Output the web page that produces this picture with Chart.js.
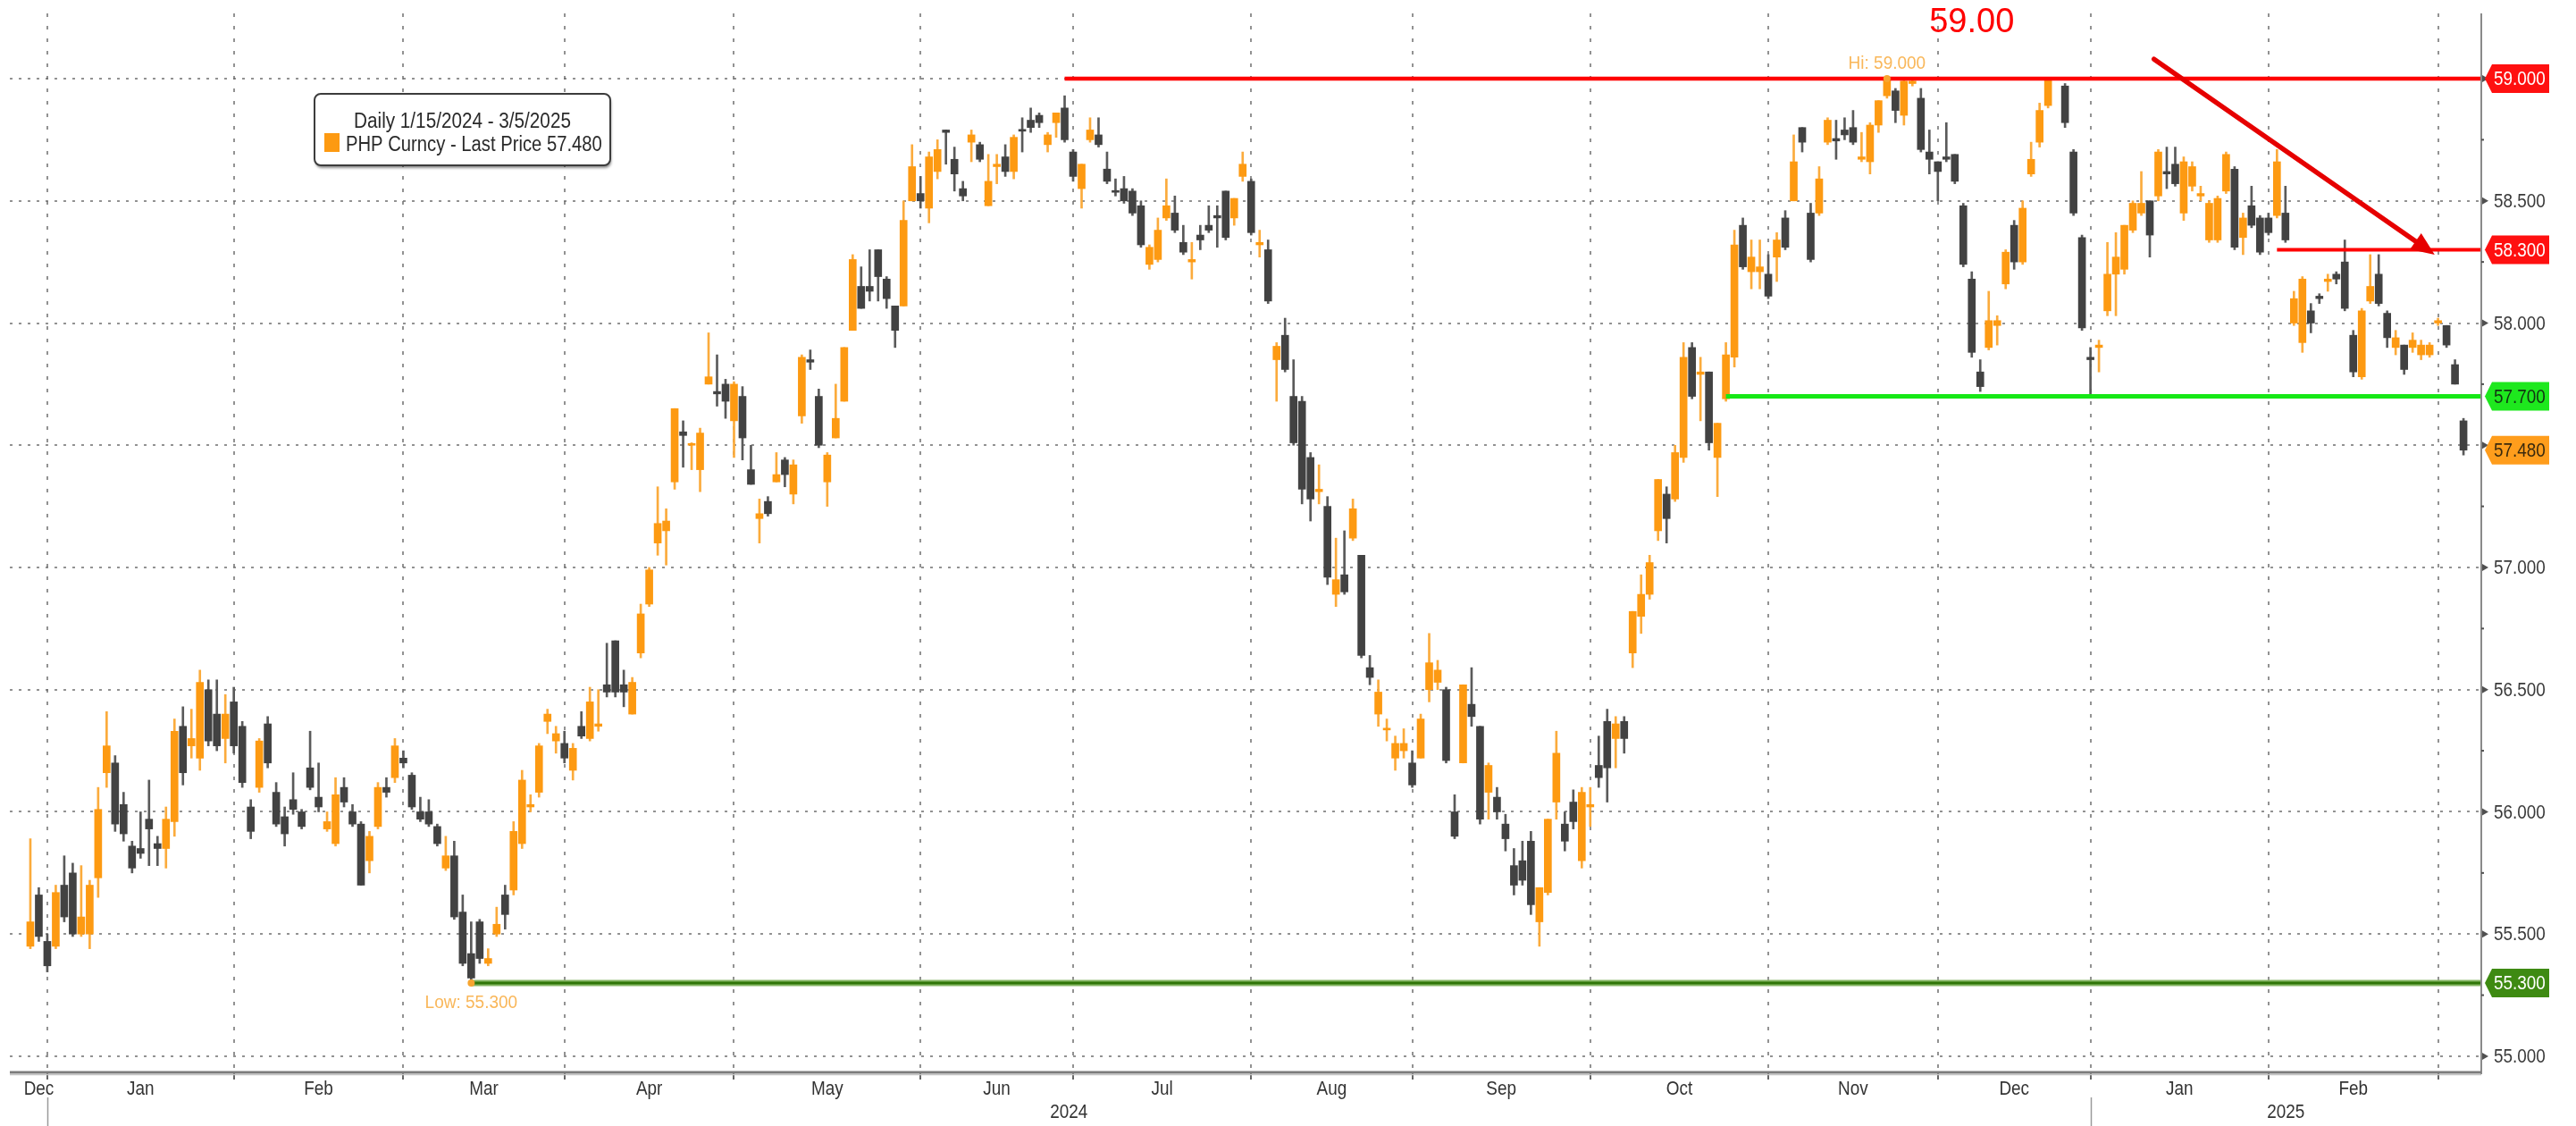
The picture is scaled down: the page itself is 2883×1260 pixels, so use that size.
<!DOCTYPE html>
<html>
<head>
<meta charset="utf-8">
<script src="https://cdn.jsdelivr.net/npm/chart.js@4.4.1/dist/chart.umd.min.js"></script>
<style>
  html, body { margin: 0; padding: 0; background: #fff; }
  canvas { display: block; }
</style>
</head>
<body>
<canvas id="chart" width="2883" height="1260"></canvas>
<script>
// PHP Curncy daily candles (index = trading day, null = no bar)
const openPx = [
  55.45, 55.66, 55.47, 55.45, 55.70, 55.75, 55.50, 55.50, 55.73, 56.16,
  56.20, 56.03, 55.86, 55.85, 55.97, 55.87, 55.85, 55.96, 56.35, 56.27,
  56.22, 56.50, 56.40, 56.30, 56.45, 56.35, 56.02, 56.10, 56.36, 56.08,
  55.98, 56.05, 56.00, 56.18, 56.06, 55.93, 55.87, 56.10, 56.00, 55.95,
  55.80, 55.94, 56.10, 56.14, 56.22, 56.15, 56.00, 56.00, 55.94, 55.77,
  55.82, 55.59, 55.42, 55.55, 55.38, 55.50, 55.66, 55.68, 55.87, 56.02,
  56.08, 56.37, 56.29, 56.28, 56.17, 56.35, 56.30, 56.35, 56.52, 56.70,
  56.52, 56.40, 56.65, 56.85, 57.10, 57.15, 57.35, 57.555, 57.50, 57.40,
  57.75, 57.72, 57.75, 57.60, 57.70, 57.40, 57.20, 57.27, 57.35, 57.44,
  57.30, 57.62, 57.85, 57.70, 57.35, 57.53, 57.68, 57.97, 58.15, 58.15,
  58.30, 58.18, 58.07, 58.07, 58.50, 58.53, 58.47, 58.62, 58.79, 58.67,
  58.55, 58.74, 58.73, 58.48, 58.64, 58.68, 58.62, 58.79, 58.83, 58.85,
  58.73, 58.82, 58.88, 58.70, 58.55, 58.75, 58.77, 58.63, 58.54, 58.55,
  58.54, 58.48, 58.24, 58.26, 58.43, 58.45, 58.33, 58.25, 58.36, 58.40,
  58.44, 58.54, 58.43, 58.60, 58.58, 58.32, 58.30, 57.85, 57.95, 57.70,
  57.68, 57.45, 57.31, 57.25, 56.89, 56.97, 57.12, 57.05, 56.59, 56.40,
  56.335, 56.22, 56.25, 56.20, 56.22, 56.50, 56.53, 56.50, 56.00, 56.20,
  56.44, 56.35, 56.08, 56.06, 55.95, 55.78, 55.80, 55.88, 55.55, 55.67,
  56.04, 55.95, 56.04, 55.80, 56.02, 56.19, 56.37, 56.30, 56.37, 56.65,
  56.80, 56.89, 57.15, 57.30, 57.28, 57.45, 57.90, 57.79, 57.80, 57.45,
  57.69, 57.86, 58.40, 58.21, 58.21, 58.20, 58.27, 58.43, 58.50, 58.80,
  58.45, 58.45, 58.74, 58.755, 58.79, 58.80, 58.67, 58.66, 58.81, 58.93,
  58.95, 58.85, 58.98, 58.92, 58.70, 58.66, 58.68, 58.69, 58.48, 58.18,
  57.80, 57.90, 57.99, 58.16, 58.40, 58.25, 58.61, 58.74, 58.89, null,
  58.97, 58.70, 58.35, 57.86, 57.90, 58.05, 58.20, 58.22, 58.38, 58.45,
  58.50, 58.52, 58.62, 58.65, 58.45, 58.56, 58.52, 58.34, 58.34, 58.54,
  58.63, 58.35, 58.48, 58.43, 58.43, 58.44, 58.45, 58.00, 57.92, 58.05,
  58.11, 58.17, 58.20, 58.25, 57.95, 57.78, 58.09, 58.20, 58.04, 57.90,
  57.91, 57.90, 57.87, 57.87, 58.00, 57.99, 57.83, 57.60
];
const highPx = [
  55.89, 55.69, 55.50, 55.70, 55.82, 55.79, 55.78, 55.72, 56.10, 56.41,
  56.23, 56.08, 55.88, 56.00, 56.13, 55.90, 56.02, 56.38, 56.43, 56.42,
  56.58, 56.54, 56.54, 56.48, 56.51, 56.37, 56.05, 56.30, 56.39, 56.12,
  56.02, 56.16, 56.01, 56.33, 56.20, 56.00, 56.14, 56.14, 56.03, 55.96,
  55.92, 56.12, 56.14, 56.30, 56.25, 56.16, 56.06, 56.05, 55.95, 55.90,
  55.88, 55.66, 55.55, 55.56, 55.44, 55.61, 55.70, 55.96, 56.17, 56.07,
  56.28, 56.42, 56.35, 56.33, 56.28, 56.41, 56.51, 56.50, 56.69, 56.70,
  56.58, 56.55, 56.85, 57.00, 57.33, 57.24, 57.65, 57.60, 57.51, 57.57,
  57.96, 57.87, 57.77, 57.76, 57.74, 57.50, 57.28, 57.29, 57.47, 57.45,
  57.44, 57.87, 57.89, 57.73, 57.47, 57.75, 57.90, 58.28, 58.23, 58.30,
  58.30, 58.19, 58.07, 58.50, 58.73, 58.60, 58.70, 58.75, 58.79, 58.72,
  58.58, 58.79, 58.74, 58.69, 58.69, 58.73, 58.77, 58.84, 58.88, 58.86,
  58.78, 58.86, 58.93, 58.71, 58.65, 58.84, 58.84, 58.70, 58.59, 58.60,
  58.55, 58.50, 58.32, 58.43, 58.59, 58.52, 58.40, 58.33, 58.40, 58.48,
  58.48, 58.54, 58.51, 58.70, 58.59, 58.38, 58.34, 57.92, 58.02, 57.85,
  57.70, 57.47, 57.42, 57.29, 57.12, 57.15, 57.28, 57.05, 56.64, 56.54,
  56.38, 56.31, 56.34, 56.25, 56.40, 56.73, 56.62, 56.51, 56.07, 56.52,
  56.59, 56.35, 56.20, 56.10, 55.99, 55.85, 55.88, 55.92, 55.69, 55.97,
  56.33, 56.00, 56.09, 56.10, 56.10, 56.31, 56.42, 56.39, 56.39, 56.82,
  56.97, 57.05, 57.36, 57.33, 57.50, 57.92, 57.92, 57.86, 57.80, 57.59,
  57.92, 58.38, 58.43, 58.34, 58.34, 58.28, 58.37, 58.46, 58.77, 58.80,
  58.49, 58.64, 58.84, 58.83, 58.84, 58.87, 58.78, 58.82, 58.91, 59.00,
  58.96, 59.00, 59.00, 58.96, 58.79, 58.66, 58.82, 58.69, 58.49, 58.21,
  57.85, 58.13, 58.03, 58.30, 58.42, 58.50, 58.74, 58.90, 59.00, null,
  58.98, 58.71, 58.36, 57.90, 57.93, 58.33, 58.37, 58.40, 58.50, 58.62,
  58.50, 58.71, 58.72, 58.72, 58.68, 58.66, 58.56, 58.50, 58.52, 58.70,
  58.64, 58.45, 58.56, 58.44, 58.45, 58.71, 58.56, 58.13, 58.19, 58.08,
  58.12, 58.20, 58.21, 58.34, 57.97, 58.06, 58.28, 58.28, 58.05, 57.97,
  57.91, 57.96, 57.93, 57.92, 58.02, 57.99, 57.85, 57.61
];
const lowPx = [
  55.44, 55.47, 55.345, 55.44, 55.55, 55.49, 55.49, 55.44, 55.65, 56.10,
  55.92, 55.88, 55.75, 55.81, 55.78, 55.78, 55.77, 55.90, 56.11, 56.22,
  56.17, 56.27, 56.25, 56.20, 56.24, 56.10, 55.89, 56.08, 56.18, 55.94,
  55.86, 55.99, 55.93, 56.09, 56.00, 55.92, 55.86, 56.02, 55.94, 55.70,
  55.75, 55.93, 56.06, 56.12, 56.18, 56.01, 55.96, 55.94, 55.86, 55.76,
  55.56, 55.37, 55.30, 55.38, 55.37, 55.49, 55.52, 55.66, 55.85, 56.00,
  56.06, 56.32, 56.24, 56.20, 56.13, 56.30, 56.29, 56.33, 56.47, 56.47,
  56.43, 56.40, 56.63, 56.84, 57.05, 57.01, 57.32, 57.41, 57.40, 57.31,
  57.75, 57.66, 57.61, 57.45, 57.44, 57.34, 57.10, 57.21, 57.35, 57.33,
  57.26, 57.59, 57.81, 57.49, 57.25, 57.53, 57.68, 57.97, 58.06, 58.09,
  58.09, 58.06, 57.90, 58.07, 58.50, 58.47, 58.41, 58.59, 58.65, 58.54,
  58.50, 58.66, 58.66, 58.48, 58.57, 58.60, 58.59, 58.70, 58.78, 58.80,
  58.70, 58.76, 58.74, 58.58, 58.47, 58.74, 58.72, 58.57, 58.52, 58.49,
  58.44, 58.31, 58.22, 58.25, 58.42, 58.37, 58.28, 58.18, 58.30, 58.37,
  58.31, 58.34, 58.40, 58.58, 58.36, 58.27, 58.08, 57.68, 57.80, 57.50,
  57.26, 57.19, 57.26, 56.93, 56.84, 56.89, 57.11, 56.63, 56.52, 56.35,
  56.29, 56.17, 56.22, 56.10, 56.22, 56.45, 56.50, 56.20, 55.89, 56.20,
  56.35, 55.95, 55.97, 55.97, 55.84, 55.66, 55.70, 55.58, 55.45, 55.66,
  55.97, 55.84, 55.93, 55.77, 55.94, 56.10, 56.04, 56.18, 56.24, 56.59,
  56.73, 56.87, 57.11, 57.10, 57.27, 57.43, 57.69, 57.60, 57.48, 57.29,
  57.68, 57.82, 58.22, 58.14, 58.14, 58.10, 58.17, 58.30, 58.50, 58.70,
  58.25, 58.44, 58.73, 58.67, 58.75, 58.73, 58.66, 58.61, 58.78, 58.92,
  58.82, 58.81, 58.97, 58.70, 58.61, 58.50, 58.66, 58.57, 58.23, 57.86,
  57.72, 57.89, 57.91, 58.14, 58.22, 58.24, 58.60, 58.72, 58.88, null,
  58.80, 58.44, 57.97, 57.70, 57.80, 58.03, 58.03, 58.20, 58.37, 58.44,
  58.27, 58.50, 58.55, 58.56, 58.42, 58.54, 58.50, 58.33, 58.33, 58.53,
  58.30, 58.28, 58.39, 58.28, 58.36, 58.43, 58.33, 57.99, 57.88, 57.96,
  58.08, 58.13, 58.16, 58.05, 57.78, 57.77, 58.08, 58.07, 57.90, 57.87,
  57.79, 57.88, 57.85, 57.86, 57.99, 57.90, 57.75, 57.46
];
const closePx = [
  55.55, 55.49, 55.37, 55.67, 55.57, 55.50, 55.57, 55.70, 56.01, 56.27,
  55.95, 55.91, 55.77, 55.83, 55.93, 55.85, 55.97, 56.33, 56.16, 56.30,
  56.53, 56.29, 56.27, 56.40, 56.27, 56.12, 55.92, 56.29, 56.20, 55.95,
  55.91, 56.01, 55.94, 56.10, 56.02, 55.96, 56.07, 56.04, 55.95, 55.70,
  55.90, 56.10, 56.08, 56.27, 56.20, 56.02, 55.97, 55.95, 55.87, 55.82,
  55.57, 55.38, 55.32, 55.40, 55.40, 55.54, 55.58, 55.92, 56.13, 56.03,
  56.27, 56.40, 56.32, 56.22, 56.26, 56.31, 56.45, 56.36, 56.49, 56.49,
  56.49, 56.53, 56.81, 56.99, 57.18, 57.19, 57.65, 57.54, 57.505, 57.55,
  57.78, 57.71, 57.68, 57.75, 57.53, 57.34, 57.22, 57.22, 57.38, 57.38,
  57.42, 57.86, 57.84, 57.50, 57.46, 57.61, 57.90, 58.26, 58.06, 58.13,
  58.19, 58.10, 57.97, 58.42, 58.64, 58.50, 58.68, 58.71, 58.78, 58.61,
  58.52, 58.77, 58.67, 58.58, 58.65, 58.62, 58.76, 58.785, 58.80, 58.82,
  58.77, 58.86, 58.75, 58.60, 58.65, 58.79, 58.73, 58.58, 58.535, 58.50,
  58.45, 58.32, 58.31, 58.38, 58.48, 58.38, 58.29, 58.26, 58.34, 58.38,
  58.43, 58.35, 58.51, 58.65, 58.37, 58.33, 58.09, 57.905, 57.81, 57.51,
  57.32, 57.28, 57.32, 56.96, 56.95, 56.90, 57.24, 56.64, 56.55, 56.49,
  56.34, 56.28, 56.28, 56.11, 56.38, 56.61, 56.58, 56.21, 55.90, 56.52,
  56.39, 55.97, 56.19, 56.00, 55.89, 55.70, 55.72, 55.62, 55.69, 55.97,
  56.24, 55.88, 55.96, 56.08, 56.03, 56.14, 56.18, 56.36, 56.30, 56.82,
  56.89, 57.02, 57.36, 57.20, 57.47, 57.86, 57.70, 57.80, 57.51, 57.59,
  57.87, 58.32, 58.23, 58.27, 58.23, 58.11, 58.34, 58.31, 58.66, 58.74,
  58.26, 58.59, 58.83, 58.745, 58.77, 58.74, 58.68, 58.81, 58.91, 59.00,
  58.87, 58.99, 58.99, 58.71, 58.67, 58.62, 58.67, 58.58, 58.24, 57.88,
  57.74, 58.01, 58.01, 58.29, 58.25, 58.47, 58.67, 58.87, 59.00, null,
  58.82, 58.45, 57.98, 57.85, 57.91, 58.20, 58.27, 58.40, 58.49, 58.49,
  58.36, 58.70, 58.61, 58.57, 58.66, 58.64, 58.53, 58.49, 58.51, 58.69,
  58.31, 58.43, 58.40, 58.29, 58.37, 58.66, 58.34, 58.10, 58.18, 58.00,
  58.10, 58.18, 58.18, 58.06, 57.80, 58.05, 58.15, 58.08, 57.94, 57.94,
  57.81, 57.93, 57.91, 57.91, 58.01, 57.91, 57.75, 57.48
];

// first trading day of each month, and the month names shown under the axis
const monthStart = [2, 24, 44, 63, 83, 105, 123, 144, 163, 184, 205, 225, 243, 264, 284];
const monthLabels = ['Dec', 'Jan', 'Feb', 'Mar', 'Apr', 'May', 'Jun', 'Jul', 'Aug', 'Sep', 'Oct', 'Nov', 'Dec', 'Jan', 'Feb'];
const yearStart = [2, 243];
const yearLabels = ['2024', '2025'];
const yTicks = [55, 55.5, 56, 56.5, 57, 57.5, 58, 58.5, 59];

// drawn levels: value and the trading day where the line starts
const levelValues = [59.0, 58.3, 57.7, 55.3];
const levelStart = [122, 265, 200, 52];
const lastPrice = 57.48;
const hiValue = 59.0, hiIndex = 219;
const loValue = 55.3, loIndex = 52;
const arrowFrom = [250.5, 59.08];
const arrowTo = [283.6, 58.28];

const SANS = "'Liberation Sans', Arial, sans-serif";
const ORANGE = '#fd9a12';
const DARK = '#424242';

const levelStyle = [
  { color: '#ff0000', width: 4.5, tag: '#ff1010', text: '#ffffff' },
  { color: '#ff0000', width: 4, tag: '#ff1010', text: '#ffffff' },
  { color: '#16e816', width: 5, tag: '#1ee81e', text: '#123312' },
  { color: '#2f7608', width: 3, halo: '#86b664', tag: '#3e8a12', text: '#ffffff' }
];

const live = openPx.map((v, i) => i).filter(i => openPx[i] !== null);
const isUp = i => closePx[i] >= openPx[i];

const wickData = live.map(i => ({ x: i, y: [lowPx[i], highPx[i]] }));
const bodyData = live.map(i => ({ x: i, y: [openPx[i], closePx[i]] }));

// Bloomberg uses a condensed face; squeeze Liberation Sans horizontally
function squeezed(ctx, text, x, y, size, color, align, baseline, sx) {
  ctx.save();
  ctx.font = size + 'px ' + SANS;
  ctx.fillStyle = color;
  ctx.textAlign = align;
  ctx.textBaseline = baseline;
  ctx.translate(x, y);
  ctx.scale(sx, 1);
  ctx.fillText(text, 0, 0);
  ctx.restore();
}

function tag(ctx, right, py, value, fill, textColor) {
  const x0 = right + 4, h = 32;
  ctx.beginPath();
  ctx.moveTo(x0, py);
  ctx.lineTo(x0 + 8, py - h / 2);
  ctx.lineTo(x0 + 72, py - h / 2);
  ctx.lineTo(x0 + 72, py + h / 2);
  ctx.lineTo(x0 + 8, py + h / 2);
  ctx.closePath();
  ctx.fillStyle = fill;
  ctx.fill();
  squeezed(ctx, value.toFixed(3), x0 + 10, py + 1, 22, textColor, 'left', 'middle', 0.86);
}

const overlay = {
  id: 'overlay',
  afterDatasetsDraw(chart) {
    const { ctx, chartArea: a, scales: { x, y } } = chart;
    ctx.save();
    levelValues.forEach((v, k) => {
      const st = levelStyle[k];
      const py = y.getPixelForValue(v);
      const px = x.getPixelForValue(levelStart[k]);
      if (st.halo) {
        ctx.strokeStyle = st.halo;
        ctx.lineWidth = st.width + 4;
        ctx.beginPath(); ctx.moveTo(px, py); ctx.lineTo(a.right, py); ctx.stroke();
      }
      ctx.strokeStyle = st.color;
      ctx.lineWidth = st.width;
      ctx.beginPath(); ctx.moveTo(px, py); ctx.lineTo(a.right, py); ctx.stroke();
    });

    // hand drawn down arrow
    const ax0 = x.getPixelForValue(arrowFrom[0]), ay0 = y.getPixelForValue(arrowFrom[1]);
    const ax1 = x.getPixelForValue(arrowTo[0]), ay1 = y.getPixelForValue(arrowTo[1]);
    const ang = Math.atan2(ay1 - ay0, ax1 - ax0);
    const headLen = 26, headHalf = 11;
    const bx = ax1 - headLen * Math.cos(ang), by = ay1 - headLen * Math.sin(ang);
    ctx.strokeStyle = '#e60000';
    ctx.lineWidth = 5.5;
    ctx.lineCap = 'round';
    ctx.beginPath(); ctx.moveTo(ax0, ay0); ctx.lineTo(bx, by); ctx.stroke();
    ctx.fillStyle = '#e60000';
    ctx.beginPath();
    ctx.moveTo(ax1, ay1);
    ctx.lineTo(bx + headHalf * Math.sin(ang), by - headHalf * Math.cos(ang));
    ctx.lineTo(bx - headHalf * Math.sin(ang), by + headHalf * Math.cos(ang));
    ctx.closePath();
    ctx.fill();

    // hi / lo markers
    const hx = x.getPixelForValue(hiIndex), hy = y.getPixelForValue(hiValue);
    const lx = x.getPixelForValue(loIndex), ly = y.getPixelForValue(loValue);
    squeezed(ctx, 'Hi: ' + hiValue.toFixed(3), hx, hy - 11, 20, '#f9b75a', 'center', 'alphabetic', 0.95);
    squeezed(ctx, 'Low: ' + loValue.toFixed(3), lx, ly + 28, 20, '#f9b75a', 'center', 'alphabetic', 0.95);
    ctx.fillStyle = '#f7a530';
    ctx.beginPath(); ctx.arc(lx, ly, 4, 0, Math.PI * 2); ctx.fill();
    ctx.beginPath(); ctx.arc(hx, hy, 4, 0, Math.PI * 2); ctx.fill();

    // big red note above the high
    ctx.fillStyle = '#ff0000';
    ctx.font = '38px ' + SANS;
    ctx.textAlign = 'center';
    ctx.textBaseline = 'alphabetic';
    ctx.fillText(hiValue.toFixed(2), x.getPixelForValue(229), hy - 52);
    ctx.restore();
  },
  afterDraw(chart) {
    const { ctx, chartArea: a, scales: { x, y } } = chart;
    ctx.save();

    // axis lines
    ctx.strokeStyle = '#8a8a8a';
    ctx.lineWidth = 2;
    ctx.beginPath(); ctx.moveTo(a.right, a.top); ctx.lineTo(a.right, a.bottom + 2); ctx.stroke();
    ctx.strokeStyle = '#7c7c7c';
    ctx.lineWidth = 3;
    ctx.beginPath(); ctx.moveTo(a.left, a.bottom); ctx.lineTo(a.right, a.bottom); ctx.stroke();
    ctx.strokeStyle = '#c4c4c4';
    ctx.lineWidth = 1.5;
    ctx.beginPath(); ctx.moveTo(a.left, a.bottom + 2.5); ctx.lineTo(a.right, a.bottom + 2.5); ctx.stroke();

    // price axis: pointers, minor marks and labels
    yTicks.forEach(v => {
      const py = y.getPixelForValue(v);
      ctx.fillStyle = '#505050';
      ctx.beginPath();
      ctx.moveTo(a.right + 1, py - 4);
      ctx.lineTo(a.right + 8, py);
      ctx.lineTo(a.right + 1, py + 4);
      ctx.closePath();
      ctx.fill();
      const pm = y.getPixelForValue(v + 0.25);
      if (v < 59) ctx.fillRect(a.right, pm - 1, 3, 2);
      squeezed(ctx, v.toFixed(3), a.right + 14, py + 1, 22, '#3a3a3a', 'left', 'middle', 0.86);
    });

    // price tags
    levelValues.forEach((v, k) => {
      tag(ctx, a.right, y.getPixelForValue(v), v, levelStyle[k].tag, levelStyle[k].text);
    });
    tag(ctx, a.right, y.getPixelForValue(lastPrice), lastPrice, '#ff9d1c', '#3a2a0e');

    // month and year labels
    monthLabels.forEach((m, k) => {
      const from = k === 0 ? 0 : monthStart[k - 1];
      const mid = (from + monthStart[k]) / 2;
      squeezed(ctx, m, x.getPixelForValue(mid), a.bottom + 19, 22, '#333', 'center', 'middle', 0.86);
    });
    yearLabels.forEach((yl, k) => {
      const end = k + 1 < yearStart.length ? yearStart[k + 1] : x.max;
      squeezed(ctx, yl, x.getPixelForValue((yearStart[k] + end) / 2), a.bottom + 45, 22, '#333', 'center', 'middle', 0.86);
    });
    ctx.strokeStyle = '#9a9a9a';
    ctx.lineWidth = 1.5;
    yearStart.forEach(s => {
      const px = Math.round(x.getPixelForValue(s)) + 0.5;
      ctx.beginPath(); ctx.moveTo(px, a.bottom + 28); ctx.lineTo(px, chart.height); ctx.stroke();
    });

    // legend box
    const bx = 352, by = 105, bw = 331, bh = 80, r = 7;
    ctx.save();
    ctx.shadowColor = 'rgba(0,0,0,0.45)';
    ctx.shadowOffsetX = 1;
    ctx.shadowOffsetY = 3;
    ctx.shadowBlur = 3;
    ctx.beginPath();
    ctx.roundRect(bx, by, bw, bh, r);
    ctx.fillStyle = '#fff';
    ctx.fill();
    ctx.restore();
    ctx.beginPath();
    ctx.roundRect(bx, by, bw, bh, r);
    ctx.strokeStyle = '#3c3c3c';
    ctx.lineWidth = 2;
    ctx.stroke();
    squeezed(ctx, 'Daily 1/15/2024 - 3/5/2025', bx + bw / 2, by + 38, 23, '#2a2a2a', 'center', 'alphabetic', 0.9);
    ctx.fillStyle = ORANGE;
    ctx.fillRect(bx + 11, by + 44, 17, 21);
    squeezed(ctx, 'PHP Curncy - Last Price ' + lastPrice.toFixed(3), bx + 35, by + 64, 23, '#2a2a2a', 'left', 'alphabetic', 0.88);
    ctx.restore();
  }
};

new Chart(document.getElementById('chart'), {
  type: 'bar',
  data: {
    datasets: [
      {
        label: 'wick',
        data: wickData,
        backgroundColor: live.map(i => isUp(i) ? '#fbab3c' : '#5a5a5a'),
        barThickness: 2,
        grouped: false,
        borderWidth: 0,
        order: 2
      },
      {
        label: 'PHP Curncy',
        data: bodyData,
        backgroundColor: live.map(i => isUp(i) ? ORANGE : DARK),
        barThickness: 8,
        minBarLength: 2,
        grouped: false,
        borderWidth: 0,
        order: 1
      }
    ]
  },
  options: {
    responsive: false,
    maintainAspectRatio: false,
    devicePixelRatio: 1,
    animation: false,
    layout: { padding: { left: 11, top: 15, right: 0, bottom: 0 } },
    plugins: { legend: { display: false }, tooltip: { enabled: false } },
    scales: {
      x: {
        type: 'linear',
        min: -2.42,
        max: 289.1,
        offset: false,
        bounds: 'data',
        afterBuildTicks: s => { s.ticks = monthStart.map(v => ({ value: v })); },
        afterFit: s => { s.height = 60; },
        ticks: { autoSkip: false, maxRotation: 0, callback: () => '' },
        grid: {
          offset: false,
          color: 'rgba(110,110,110,0.75)',
          lineWidth: 2,
          drawTicks: true,
          tickLength: 8,
          tickColor: '#666',
          tickWidth: 2,
          tickBorderDash: []
        },
        border: { display: false, dash: [4, 10] }
      },
      y: {
        type: 'linear',
        position: 'right',
        min: 54.934,
        max: 59.267,
        beginAtZero: false,
        bounds: 'data',
        afterBuildTicks: s => { s.ticks = yTicks.map(v => ({ value: v })); },
        afterFit: s => { s.width = 106; },
        ticks: { display: false },
        grid: { color: 'rgba(110,110,110,0.75)', lineWidth: 2, drawTicks: false },
        border: { display: false, dash: [3, 7] }
      }
    }
  },
  plugins: [overlay]
});
</script>
</body>
</html>
